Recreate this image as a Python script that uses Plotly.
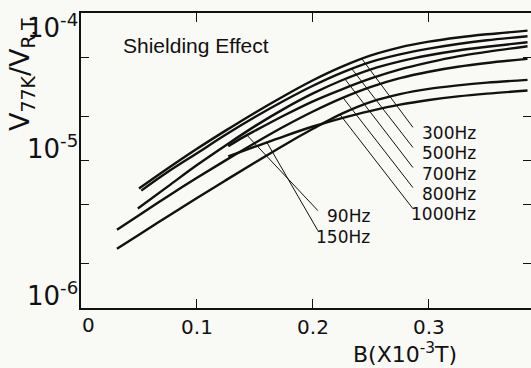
import numpy as np
import plotly.graph_objects as go

# ---- data (B in 1e-3 T, V77K/VR.T.) ----
B_300 = [0.05, 0.075, 0.10, 0.125, 0.15, 0.175, 0.20, 0.225, 0.25, 0.275, 0.30, 0.325, 0.35, 0.385]
V_300 = [6.45e-6, 8.85e-6, 1.20e-5, 1.60e-5, 2.11e-5, 2.74e-5, 3.50e-5, 4.33e-5, 5.16e-5, 5.85e-5,
         6.39e-5, 6.82e-5, 7.17e-5, 7.59e-5]

B_500 = [0.052, 0.075, 0.10, 0.125, 0.15, 0.175, 0.20, 0.225, 0.25, 0.275, 0.30, 0.325, 0.35, 0.385]
V_500 = [6.25e-6, 8.38e-6, 1.12e-5, 1.50e-5, 1.97e-5, 2.54e-5, 3.21e-5, 3.94e-5, 4.66e-5, 5.24e-5,
         5.73e-5, 6.16e-5, 6.53e-5, 6.96e-5]

B_700 = [0.049, 0.075, 0.10, 0.125, 0.15, 0.175, 0.20, 0.225, 0.25, 0.275, 0.30, 0.325, 0.35, 0.385]
V_700 = [4.72e-6, 6.68e-6, 9.32e-6, 1.27e-5, 1.71e-5, 2.24e-5, 2.85e-5, 3.50e-5, 4.15e-5, 4.70e-5,
         5.17e-5, 5.57e-5, 5.90e-5, 6.34e-5]

B_90 = [0.127, 0.14, 0.15, 0.175, 0.20, 0.225, 0.25, 0.275, 0.30, 0.325, 0.35, 0.385]
V_90 = [1.25e-5, 1.44e-5, 1.59e-5, 2.02e-5, 2.52e-5, 3.04e-5, 3.60e-5, 4.15e-5, 4.63e-5, 5.08e-5,
        5.45e-5, 5.95e-5]

B_800 = [0.031, 0.05, 0.075, 0.10, 0.125, 0.15, 0.175, 0.20, 0.225, 0.25, 0.275, 0.30, 0.325, 0.35, 0.385]
V_800 = [3.39e-6, 4.26e-6, 5.73e-6, 7.63e-6, 1.006e-5, 1.315e-5, 1.70e-5, 2.15e-5, 2.65e-5, 3.16e-5,
         3.62e-5, 4.00e-5, 4.32e-5, 4.58e-5, 4.89e-5]

B_150 = [0.127, 0.15, 0.175, 0.20, 0.225, 0.25, 0.275, 0.30, 0.325, 0.35, 0.385]
V_150 = [1.065e-5, 1.24e-5, 1.46e-5, 1.70e-5, 1.94e-5, 2.17e-5, 2.39e-5, 2.57e-5, 2.72e-5, 2.84e-5, 2.98e-5]

B_1000 = [0.031, 0.05, 0.075, 0.10, 0.125, 0.15, 0.175, 0.20, 0.225, 0.25, 0.275, 0.30, 0.325, 0.35, 0.385]
V_1000 = [2.52e-6, 3.14e-6, 4.19e-6, 5.57e-6, 7.36e-6, 9.68e-6, 1.27e-5, 1.64e-5, 2.08e-5, 2.50e-5,
          2.82e-5, 3.06e-5, 3.23e-5, 3.37e-5, 3.52e-5]

freq_labels = ["300Hz", "500Hz", "700Hz", "800Hz", "1000Hz", "90Hz", "150Hz"]
x_ticks = [0.1, 0.2, 0.3]
x_tick_text = ["0.1", "0.2", "0.3"]
y_decades = [-4, -5, -6]
y_minor = [2e-6, 5e-6, 1e-5, 2e-5, 5e-5]

series = {
    "300Hz": (B_300, V_300),
    "500Hz": (B_500, V_500),
    "700Hz": (B_700, V_700),
    "800Hz": (B_800, V_800),
    "1000Hz": (B_1000, V_1000),
    "90Hz": (B_90, V_90),
    "150Hz": (B_150, V_150),
}

INK = "#111111"
BG = "#f9f9f5"
NUM_FONT = "DejaVu Sans"

fig = go.Figure()
for name, (bx, vy) in series.items():
    fig.add_trace(go.Scatter(x=bx, y=vy, mode="lines", name=name,
                             line=dict(color=INK, width=2.4, shape="spline", smoothing=1.0),
                             hoverinfo="skip"))

# leader lines: (x on curve, label end x, label end log10 y)
leaders = {
    "300Hz": (0.2422, 0.2862, -4.7755),
    "500Hz": (0.2336, 0.2862, -4.9116),
    "700Hz": (0.2276, 0.2862, -5.0476),
    "800Hz": (0.2259, 0.2862, -5.1837),
    "1000Hz": (0.2233, 0.2862, -5.3265),
    "90Hz": (0.1431, 0.2043, -5.3401),
    "150Hz": (0.1603, 0.2043, -5.4762),
}
for name, (xc, xe, ye) in leaders.items():
    bx, vy = series[name]
    yc = 10 ** np.interp(xc, bx, np.log10(vy))
    fig.add_trace(go.Scatter(x=[xc, xe], y=[yc, 10 ** ye], mode="lines",
                             line=dict(color=INK, width=1.0), hoverinfo="skip",
                             showlegend=False))

# invisible trace to activate right-side tick axis
fig.add_trace(go.Scatter(x=[B_300[0]], y=[V_300[0]], yaxis="y2", mode="markers",
                         marker=dict(opacity=0), hoverinfo="skip", showlegend=False))

annotations = []
label_pos = {
    "300Hz": (0.3422, -4.8163),
    "500Hz": (0.3422, -4.9524),
    "700Hz": (0.3422, -5.0884),
    "800Hz": (0.3422, -5.2245),
    "1000Hz": (0.3422, -5.3605),
    "90Hz": (0.2509, -5.3741),
    "150Hz": (0.2509, -5.5170),
}
for name in freq_labels:
    lx, ly = label_pos[name]
    annotations.append(dict(x=lx, y=ly, xref="x", yref="y", text=name, showarrow=False,
                            xanchor="right", yanchor="middle",
                            font=dict(family=NUM_FONT, size=17, color=INK)))

for d in y_decades:
    annotations.append(dict(x=0, y=d, xref="paper", yref="y",
                            text="10<sup>%d</sup>" % d, showarrow=False,
                            xanchor="right", yanchor="top" if d == -4 else "bottom",
                            xshift=-1, yshift=6 if d == -4 else -5,
                            font=dict(family=NUM_FONT, size=26, color=INK)))

annotations.append(dict(x=0, y=0, xref="x", yref="paper", text="0", showarrow=False,
                        xanchor="center", yanchor="top", xshift=7, yshift=-3,
                        font=dict(family=NUM_FONT, size=20, color=INK)))

annotations.append(dict(x=0.72, y=-0.154, xref="paper", yref="paper",
                        text="B(X10<sup>-3</sup>T)", showarrow=False,
                        xanchor="center", yanchor="middle",
                        font=dict(family=NUM_FONT, size=22, color=INK)))
annotations.append(dict(x=-0.131, y=0.797, xref="paper", yref="paper",
                        text="V<sub>77K</sub>/V<sub>R.T.</sub>", showarrow=False,
                        textangle=-90, xanchor="center", yanchor="middle",
                        font=dict(family=NUM_FONT, size=27, color=INK)))
annotations.append(dict(x=0.2556, y=0.89, xref="paper", yref="paper",
                        text="Shielding Effect", showarrow=False,
                        xanchor="center", yanchor="middle",
                        font=dict(family="Liberation Sans", size=21, color=INK)))

fig.update_layout(
    width=531, height=368,
    margin=dict(l=81, r=0, t=13, b=60),
    paper_bgcolor=BG, plot_bgcolor=BG,
    showlegend=False,
    annotations=annotations,
    xaxis=dict(range=[0, 0.388], showline=True, linecolor=INK, linewidth=1.6,
               mirror="ticks", ticks="inside", ticklen=9, tickwidth=1.3, tickcolor=INK,
               tickvals=x_ticks, ticktext=x_tick_text, showgrid=False, zeroline=False,
               tickfont=dict(family=NUM_FONT, size=20, color=INK)),
    yaxis=dict(type="log", range=[-6, -4], showline=True, linecolor=INK, linewidth=1.6,
               ticks="inside", ticklen=8, tickwidth=1.3, tickcolor=INK,
               tickvals=y_minor, showticklabels=False, showgrid=False, zeroline=False),
    yaxis2=dict(type="log", range=[-6, -4], overlaying="y", side="right",
                showline=False, ticks="inside", ticklen=8, tickwidth=1.3, tickcolor=INK,
                tickvals=y_minor, showticklabels=False, showgrid=False, zeroline=False),
)

fig.write_html("out.html", config={"displayModeBar": False},
               post_script="document.body.style.margin='0';document.body.style.background='%s';" % BG)
